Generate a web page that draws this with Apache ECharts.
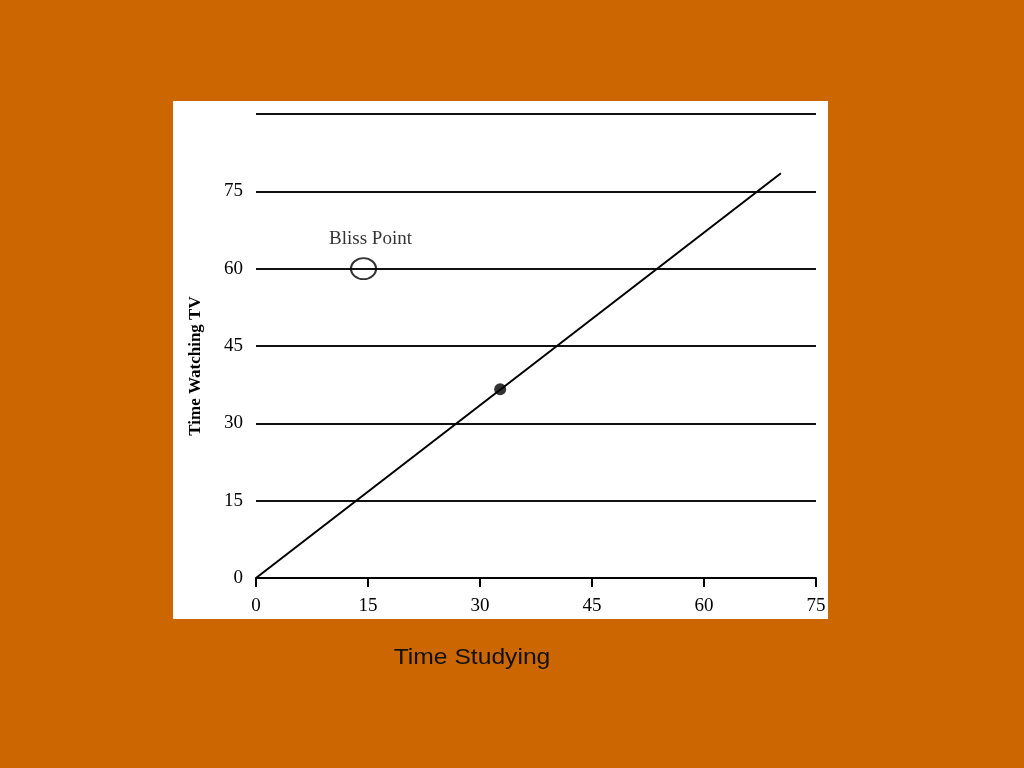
<!DOCTYPE html>
<html>
<head>
<meta charset="utf-8">
<script src="https://cdn.jsdelivr.net/npm/echarts@6/dist/echarts.min.js"></script>
<style>html,body{margin:0;padding:0;background:#CC6600;}#c{width:1024px;height:768px;}</style>
</head>
<body>
<div id="c"></div>
<script>
// Data
var xTicks = [0, 15, 30, 45, 60, 75];
var yTicks = [0, 15, 30, 45, 60, 75, 90];
var budgetLine = [[0, 0], [70.3, 78.5]];
var chosenPoint = [[32.7, 36.6]];
var blissPoint = [[14.4, 60]];
var blissLabel = 'Bliss Point';
var xTitle = 'Time Studying';
var yTitle = 'Time Watching TV';

var serif = '"Liberation Serif", "DejaVu Serif", serif';
var chart = echarts.init(document.getElementById('c'));
chart.setOption({
  backgroundColor: '#CC6600',
  animation: false,
  graphic: [
    { type: 'rect', z: -10, shape: { x: 173, y: 101, width: 655, height: 518 }, style: { fill: '#ffffff' } },
    { type: 'text', x: 472, y: 658, scaleX: 1.12, style: { text: xTitle, font: '22px "Liberation Sans", Arial, sans-serif', fill: '#111', align: 'center', verticalAlign: 'middle' } },
    { type: 'text', x: 196, y: 366, rotation: Math.PI / 2, style: { text: yTitle, font: 'bold 17px ' + serif, fill: '#000', align: 'center', verticalAlign: 'middle' } }
  ],
  grid: { left: 256, top: 114, width: 560, height: 464, containLabel: false },
  xAxis: {
    type: 'value', min: xTicks[0], max: xTicks[xTicks.length - 1], interval: 15,
    axisLine: { show: true, lineStyle: { color: '#000', width: 2 } },
    axisTick: { show: true, length: 9, lineStyle: { color: '#000', width: 2 } },
    axisLabel: { color: '#000', fontFamily: serif, fontSize: 19, margin: 19 },
    splitLine: { show: false }
  },
  yAxis: {
    type: 'value', min: yTicks[0], max: yTicks[yTicks.length - 1], interval: 15,
    axisLine: { show: false }, axisTick: { show: false },
    axisLabel: { color: '#000', fontFamily: serif, fontSize: 19, margin: 13,
      formatter: function (v) { return v === 90 ? '' : String(v); } },
    splitLine: { show: true, lineStyle: { color: '#111', width: 1.8 } }
  },
  series: [
    { type: 'line', data: budgetLine, showSymbol: false, lineStyle: { color: '#000', width: 2 }, z: 3 },
    { type: 'scatter', data: chosenPoint, symbol: 'circle', symbolSize: 12, itemStyle: { color: '#000' }, z: 4 },
    { type: 'scatter', data: blissPoint, symbol: 'circle', symbolSize: [25, 21],
      itemStyle: { color: 'rgba(255,255,255,0)', borderColor: '#000', borderWidth: 2 }, z: 4,
      label: { show: true, position: 'top', distance: 9, offset: [7, 0], formatter: blissLabel,
        color: '#000', fontFamily: serif, fontSize: 19 } }
  ]
});
</script>
</body>
</html>
